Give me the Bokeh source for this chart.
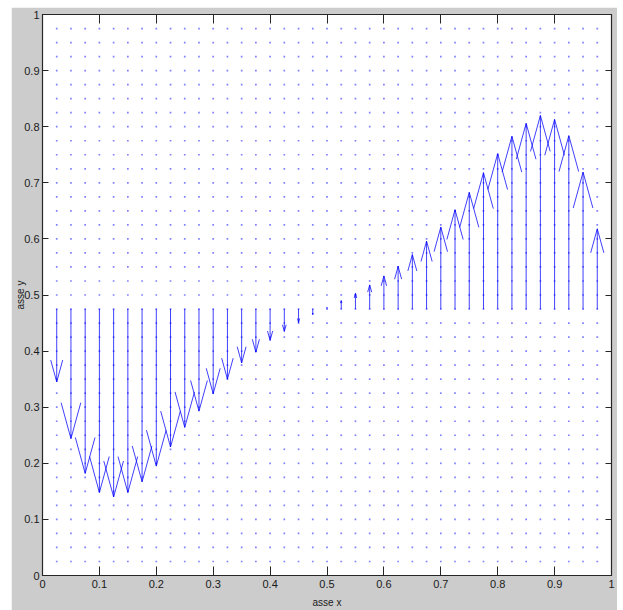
from bokeh.plotting import figure
from bokeh.models import Range1d, FixedTicker, LinearAxis
from bokeh.embed import file_html
from bokeh.resources import INLINE

# quiver grid positions (both directions)
grid = [0.025, 0.05, 0.075, 0.1, 0.125, 0.15, 0.175, 0.2, 0.225, 0.25,
        0.275, 0.3, 0.325, 0.35, 0.375, 0.4, 0.425, 0.45, 0.475, 0.5,
        0.525, 0.55, 0.575, 0.6, 0.625, 0.65, 0.675, 0.7, 0.725, 0.75,
        0.775, 0.8, 0.825, 0.85, 0.875, 0.9, 0.925, 0.95, 0.975]

# arrows: start row and tip heights
arrow_x = grid
arrow_base = 0.475
arrow_tip = [0.345, 0.244, 0.182, 0.148, 0.140, 0.148, 0.167, 0.195, 0.229, 0.264,
             0.293, 0.324, 0.350, 0.379, 0.398, 0.419, 0.435, 0.451, 0.465, 0.478,
             0.490, 0.503, 0.518, 0.534, 0.551, 0.572, 0.596, 0.621, 0.652, 0.683,
             0.718, 0.752, 0.783, 0.806, 0.820, 0.813, 0.784, 0.719, 0.618]

tick_vals = [0, 0.1, 0.2, 0.3, 0.4, 0.5, 0.6, 0.7, 0.8, 0.9, 1]
tick_text = ["0", "0.1", "0.2", "0.3", "0.4", "0.5", "0.6", "0.7", "0.8", "0.9", "1"]

x_label = "asse x"
y_label = "asse y"

HEAD_FRAC = 0.3
HEAD_MAX = 0.064
HEAD_WIDTH = 0.27

BG = "#cccccc"
DARK = "#262626"
BLUE = "#0000ff"
FONT = "Liberation Sans Narrow, Liberation Sans, Arial, sans-serif"

p = figure(output_backend="svg", toolbar_location=None,
           frame_width=569, frame_height=561,
           min_border_left=31, min_border_right=6,
           min_border_top=7, min_border_bottom=34,
           x_range=Range1d(0, 1), y_range=Range1d(0, 1),
           background_fill_color="white", border_fill_color=BG,
           outline_line_color=DARK, outline_line_width=1.2,
           margin=(7, 0, 0, 11))
p.grid.visible = False

# dot grid (zero-length vectors)
dx, dy = [], []
for gy in grid:
    for gx in grid:
        dx.append(gx)
        dy.append(gy)
p.scatter(dx, dy, marker="square", size=1.7, fill_color=BLUE, fill_alpha=0.5,
          line_color=None)

# arrow shafts
p.segment(x0=arrow_x, y0=[arrow_base] * len(arrow_x), x1=arrow_x, y1=arrow_tip,
          line_color=BLUE, line_width=1, line_alpha=0.75)

# arrow heads
hx, hy = [], []
for x, t in zip(arrow_x, arrow_tip):
    v = t - arrow_base
    L = abs(v)
    if L < 1e-3:
        continue
    h = min(HEAD_FRAC * L, HEAD_MAX)
    w = HEAD_WIDTH * h
    back = t - (h if v > 0 else -h)
    hx.append([x - w, x, x + w])
    hy.append([back, t, back])
p.multi_line(hx, hy, line_color=BLUE, line_width=1, line_alpha=0.75)

labels = {v: s for v, s in zip(tick_vals, tick_text)}

def style_axis(ax, tick_in):
    ax.ticker = FixedTicker(ticks=tick_vals)
    ax.major_label_overrides = labels
    ax.major_tick_in = tick_in
    ax.major_tick_out = 0
    ax.minor_tick_line_color = None
    ax.major_tick_line_color = DARK
    ax.axis_line_color = DARK
    ax.major_label_text_font = FONT
    ax.major_label_text_font_size = "11px"
    ax.major_label_text_color = "#1a1a1a"
    ax.axis_label_text_font = FONT
    ax.axis_label_text_font_size = "10px"
    ax.axis_label_text_font_style = "normal"
    ax.axis_label_text_color = "#1a1a1a"

xa = p.xaxis[0]
style_axis(xa, 9)
xa.major_label_standoff = 4
xa.axis_label = x_label
xa.axis_label_standoff = 6

ya = p.yaxis[0]
style_axis(ya, 6)
ya.major_label_standoff = 3
ya.axis_label = y_label
ya.axis_label_standoff = -5

# ticks-only axes on the opposite sides (box style)
top = LinearAxis(ticker=FixedTicker(ticks=tick_vals), major_tick_in=9, major_tick_out=0,
                 minor_tick_line_color=None, major_tick_line_color=DARK,
                 axis_line_color=DARK, major_label_text_color=None,
                 major_label_text_font_size="0px", major_label_standoff=0)
p.add_layout(top, "above")
right = LinearAxis(ticker=FixedTicker(ticks=tick_vals), major_tick_in=6, major_tick_out=0,
                   minor_tick_line_color=None, major_tick_line_color=DARK,
                   axis_line_color=DARK, major_label_text_color=None,
                   major_label_text_font_size="0px", major_label_standoff=0)
p.add_layout(right, "right")

open("out.html", "w").write(file_html(p, INLINE))
